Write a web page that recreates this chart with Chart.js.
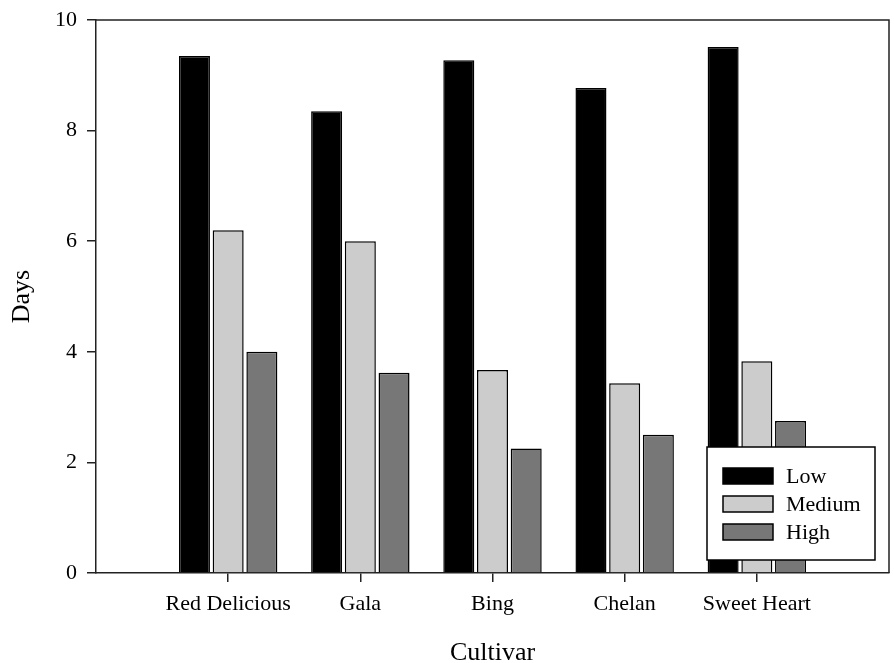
<!DOCTYPE html>
<html>
<head>
<meta charset="utf-8">
<script src="https://cdn.jsdelivr.net/npm/chart.js@4/dist/chart.umd.min.js"></script>
<style>
html,body{margin:0;padding:0;background:#fff;}
canvas{display:block;}
</style>
</head>
<body>
<canvas id="c" width="894" height="663"></canvas>
<script>
const categories = ['Red Delicious', 'Gala', 'Bing', 'Chelan', 'Sweet Heart'];
const lowValues = [9.35, 8.35, 9.27, 8.77, 9.51];
const mediumValues = [6.20, 6.00, 3.67, 3.43, 3.83];
const highValues = [4.00, 3.62, 2.25, 2.50, 2.75];
const seriesNames = ['Low', 'Medium', 'High'];
const yTicks = [0, 2, 4, 6, 8, 10];

const labels = [''].concat(categories, ['']);
const pad = arr => [null].concat(arr, [null]);

const FONT = '"Liberation Serif", "Times New Roman", serif';

const frameAndLegend = {
  id: 'frameAndLegend',
  afterDraw(chart) {
    const {ctx, chartArea} = chart;
    ctx.save();
    ctx.strokeStyle = '#222';
    ctx.lineWidth = 1.5;
    ctx.beginPath();
    ctx.moveTo(chartArea.left, chartArea.top);
    ctx.lineTo(chartArea.right, chartArea.top);
    ctx.lineTo(chartArea.right, chartArea.bottom);
    ctx.stroke();

    // legend box
    const bx = chartArea.right - 182, by = chartArea.bottom - 126, bw = 168, bh = 113;
    ctx.fillStyle = '#fff';
    ctx.fillRect(bx, by, bw, bh);
    ctx.strokeStyle = '#000';
    ctx.lineWidth = 1.5;
    ctx.strokeRect(bx, by, bw, bh);
    ctx.font = '22px ' + FONT;
    ctx.textBaseline = 'middle';
    ctx.textAlign = 'left';
    chart.data.datasets.forEach((ds, i) => {
      const cy = by + 29 + i * 28;
      ctx.fillStyle = ds.backgroundColor;
      ctx.fillRect(bx + 16, cy - 8, 50, 16);
      ctx.strokeStyle = '#000';
      ctx.lineWidth = 1.5;
      ctx.strokeRect(bx + 16, cy - 8, 50, 16);
      ctx.fillStyle = '#000';
      ctx.fillText(ds.label, bx + 79, cy + 1);
    });
    ctx.restore();
  }
};

const colors = ['#000000', '#cccccc', '#777777'];
const values = [lowValues, mediumValues, highValues];

new Chart(document.getElementById('c'), {
  type: 'bar',
  data: {
    labels: labels,
    datasets: seriesNames.map((n, i) => ({
      label: n,
      data: pad(values[i]),
      backgroundColor: colors[i],
      borderColor: '#000',
      borderWidth: 1.5,
      categoryPercentage: 0.765,
      barPercentage: 0.92
    }))
  },
  options: {
    responsive: false,
    animation: false,
    devicePixelRatio: 1,
    layout: {padding: {left: 0, top: 20, right: 5, bottom: 0}},
    plugins: {legend: {display: false}, tooltip: {enabled: false}},
    scales: {
      x: {
        type: 'category',
        offset: false,
        grid: {
          offset: false,
          drawOnChartArea: false,
          drawTicks: true,
          tickLength: 9,
          tickColor: c => (c.index === 0 || c.index === labels.length - 1) ? 'rgba(0,0,0,0)' : '#222',
          lineWidth: 1.5
        },
        border: {display: true, color: '#222', width: 1.5},
        ticks: {
          color: '#000',
          font: {family: FONT, size: 22},
          padding: 9,
          maxRotation: 0,
          autoSkip: false
        },
        title: {
          display: true,
          text: 'Cultivar',
          color: '#000',
          font: {family: FONT, size: 26, lineHeight: 1},
          padding: {top: 0, bottom: -3}
        },
        afterFit(s) { s.height = 90; s.paddingLeft = 0; s.paddingRight = 0; }
      },
      y: {
        min: 0,
        max: 10,
        afterBuildTicks(s) { s.ticks = yTicks.map(v => ({value: v})); },
        grid: {
          drawOnChartArea: false,
          drawTicks: true,
          tickLength: 9,
          tickColor: '#222',
          lineWidth: 1.5
        },
        border: {display: true, color: '#222', width: 1.5},
        ticks: {
          color: '#000',
          font: {family: FONT, size: 22},
          padding: 10
        },
        title: {
          display: true,
          text: 'Days',
          color: '#000',
          font: {family: FONT, size: 26, lineHeight: 1},
          padding: {top: 9, bottom: 0}
        },
        afterFit(s) { s.width = 96; s.paddingTop = 0; s.paddingBottom = 0; }
      }
    }
  },
  plugins: [frameAndLegend]
});
</script>
</body>
</html>
